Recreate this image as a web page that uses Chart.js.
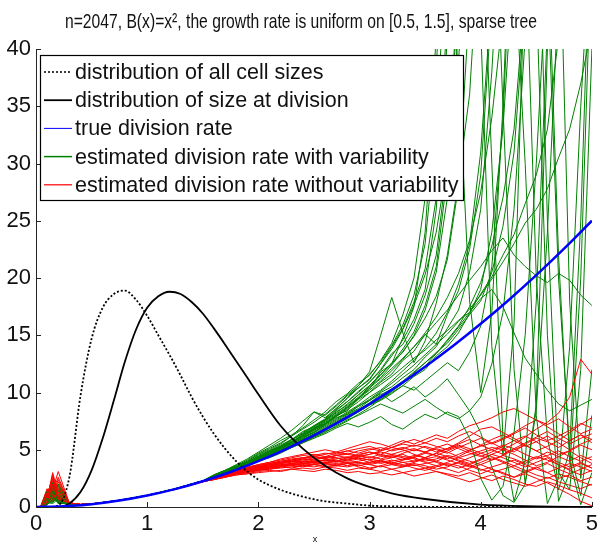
<!DOCTYPE html>
<html>
<head>
<meta charset="utf-8">
<script src="https://cdn.jsdelivr.net/npm/chart.js@4"></script>
<style>
  html, body { margin: 0; padding: 0; background: #fff; }
</style>
</head>
<body>
<canvas id="rateChart" width="602" height="544"></canvas>
<script>
// text
const titleText = "n=2047, B(x)=x\u00b2, the growth rate is uniform on [0.5, 1.5], sparse tree";
const xLabel = "x";
const legendLabels = [
  "distribution of all cell sizes",
  "distribution of size at division",
  "true division rate",
  "estimated division rate with variability",
  "estimated division rate without variability"
];
const xTicks = [0, 1, 2, 3, 4, 5];
const yTicks = [0, 5, 10, 15, 20, 25, 30, 35, 40];

// size densities
const densX = [0, 0.1, 0.2, 0.3, 0.4, 0.5, 0.6, 0.7, 0.8, 0.9, 1.0, 1.1, 1.2, 1.3, 1.4, 1.5, 1.6, 1.7, 1.8, 1.9, 2.0, 2.2, 2.4, 2.6, 2.8, 3.0, 3.2, 3.5, 4.0, 4.5, 5.0];
const allSizes = [0, 0, 0.15, 2.6, 9.7, 14.7, 17.4, 18.6, 18.9, 18.1, 16.7, 15.0, 13.3, 11.5, 9.6, 7.9, 6.4, 5.1, 4.0, 3.1, 2.4, 1.5, 0.9, 0.5, 0.3, 0.12, 0.06, 0.02, 0, 0, 0];
const atDivision = [0, 0, 0, 0.3, 1.3, 3.2, 6.0, 9.3, 12.7, 15.5, 17.4, 18.4, 18.8, 18.6, 17.9, 16.9, 15.6, 14.2, 12.75, 11.3, 9.85, 7.1, 5.1, 3.6, 2.5, 1.75, 1.2, 0.7, 0.2, 0.05, 0];

// true rate
const blueX = [0, 0.25, 0.5, 0.75, 1, 1.25, 1.5, 1.75, 2, 2.25, 2.5, 2.75, 3, 3.25, 3.5, 3.75, 4, 4.25, 4.5, 4.75, 5];
const blueY = [0, 0.06, 0.25, 0.56, 1, 1.56, 2.25, 3.06, 4, 5.06, 6.25, 7.56, 9, 10.56, 12.25, 14.06, 16, 18.06, 20.25, 22.56, 25];

// estimated rates: start, spike, shared middle part, then one tail per run
const startX = 0.04;
const spikeX = [0.1, 0.15, 0.2];
const midX = [0.3, 0.4, 0.5, 0.75, 1.0, 1.25, 1.5];
const greenMid = [0.3, 0.2, 0.27, 0.58, 1.01, 1.58, 2.28];
const redMid = [0.35, 0.22, 0.26, 0.57, 1.0, 1.55, 2.22];
const tailX = [1.6, 1.7, 1.8, 1.9, 2.0, 2.1, 2.2, 2.3, 2.4, 2.5, 2.6, 2.7, 2.8, 2.9, 3.0, 3.1, 3.2, 3.3, 3.4, 3.5,
               3.6, 3.7, 3.8, 3.9, 4.0, 4.1, 4.2, 4.3, 4.4, 4.5, 4.6, 4.7, 4.8, 4.9, 5.0];

const greenSpikes = [[0.3,1.4,0.6],[0.8,0.5,1.1],[0.2,2.1,0.4],[1.2,0.7,0.5],[0.4,0.9,1.8],[0.6,1.6,0.3],[0.3,0.5,0.9],
  [1.5,0.8,0.6],[0.5,1.2,1.4],[0.2,0.6,2.0],[0.9,1.9,0.5],[0.4,0.3,0.7],[1.0,0.6,1.2],[0.3,1.1,0.4],[0.7,2.2,0.8],
  [0.5,0.4,1.5],[1.3,0.9,0.3],[0.2,1.5,0.6],[0.6,0.8,1.0],[0.4,1.7,0.5],
  [0.5,1.0,0.7],[0.3,1.8,0.4],[1.1,0.4,0.9],[0.6,1.3,0.5],[0.2,0.7,1.6],[0.8,1.5,0.4]];
const redSpikes = [[0.5,2.0,0.7],[1.2,0.6,1.6],[0.3,2.8,0.9],[0.9,1.5,3.1],[0.4,1.1,0.6],[1.6,0.8,1.3],[0.6,2.4,0.5],
  [0.3,0.9,2.2],[1.0,1.7,0.8],[0.7,3.0,1.2],[0.4,0.6,1.9],[1.3,2.1,0.6],[0.5,1.4,2.6],[0.8,0.5,1.0],[0.3,1.9,1.4],[1.1,2.5,0.7],
  [0.6,1.8,1.0],[0.9,2.7,0.8],[0.4,1.2,2.0],[1.4,0.7,0.9],[0.5,2.2,1.7],[0.7,1.0,2.4]];

const greenTails = [
  [2.7,3.0,3.4,3.8,4.3,4.7,5.2,5.6,6.3,6.9,7.2,8.0,8.4,9.5,10.3,11.8,12.5,14.8,17.5,24,38,60],
  [2.7,3.1,3.5,4.0,4.6,5.0,5.5,6.2,7.1,8.3,7.8,8.6,9.5,10.6,11.8,15.0,18.3,15.2,12.6,14.5,17.8,22.0,28.5,36,52,70],
  [2.6,2.9,3.3,3.6,4.0,4.4,4.8,5.2,5.6,6.0,6.4,6.9,7.3,7.0,7.4,7.9,7.2,6.8,7.5,8.1,7.7,8.3,7.9,6.0,2.5,0.6,1.8,6.5,15,30,48],
  [2.6,3.0,3.3,3.7,4.2,4.6,5.0,5.5,6.0,6.6,7.1,7.7,8.3,8.9,9.6,10.2,11.0,11.9,12.8,13.9,15.2,17.0,19.5,23,31,45],
  [2.7,3.1,3.5,3.9,4.4,4.9,5.4,5.9,6.6,7.0,7.6,8.5,9.2,10.1,10.9,12.0,13.4,14.2,16.0,18.5,22.0,30,46],
  [2.6,2.9,3.2,3.6,4.0,4.4,4.8,5.3,5.8,6.3,6.7,7.3,7.8,8.4,9.0,9.4,10.1,10.8,11.5,12.3,13.4,14.6,15.8,17.5,19.6,22.8,27,33,45,60,25,3,1.5,12,40],
  [2.7,3.0,3.4,3.8,4.2,4.7,5.1,5.6,6.1,6.5,7.2,7.8,8.1,8.8,9.3,9.9,9.2,9.8,10.5,9.6,10.3,11.2,9.8,8.4,6.5,3.5,1.0,0.4,2.0,8.5,24,45],
  [2.7,3.1,3.5,3.9,4.5,4.9,5.3,5.9,6.4,7.0,7.6,8.2,9.0,9.8,10.6,11.5,12.6,13.5,15.0,17.2,20.5,27,42,60,55,30,6,0.5,4,18,42],
  [2.8,3.2,3.6,4.1,4.7,5.2,5.8,6.3,6.9,7.6,8.3,9.2,9.9,10.8,11.5,12.8,14.3,16.8,20.0,27,41],
  [2.6,3.0,3.3,3.7,4.1,4.5,5.0,5.4,5.9,6.4,6.9,7.5,8.1,8.6,9.3,10.0,10.5,11.3,12.0,13.1,14.0,15.6,17.2,20.5,26,38,55],
  [2.6,2.9,3.3,3.7,4.1,4.5,4.9,5.4,5.9,6.3,6.8,7.4,8.0,8.5,9.1,9.8,10.3,11.0,11.8,12.6,13.5,14.3,15.5,16.8,18.0,20.5,24.5,31,44,62,50,22,4,0.2,3],
  [2.7,3.0,3.4,3.8,4.3,4.6,5.1,5.6,6.2,6.8,7.3,7.9,8.6,9.4,10.0,10.7,11.4,12.2,13.0,13.7,14.6,15.4,16.3,17.0,18.2,19.0,17.5,15.2,13.0,11.6,10.2,9.0,8.4,8.9,9.4],
  [2.7,3.1,3.4,3.9,4.4,4.8,5.2,5.7,6.2,6.7,7.3,8.0,8.7,9.5,10.4,11.2,12.1,13.0,14.0,15.0,16.1,17.2,18.5,19.8,21.0,22.4,23.5,22.0,21.0,20.2,19.6,20.4,19.8,18.5,17.6],
  [2.8,3.2,3.7,4.2,4.8,5.4,6.0,6.7,7.5,8.3,8.0,8.8,9.7,10.4,11.2,12.5,13.8,15.5,17.6,20.3,24,30,39,52],
  [2.6,2.9,3.3,3.6,4.0,4.3,4.7,5.2,5.6,6.1,6.6,7.0,7.5,8.1,8.7,9.4,10.0,10.6,11.4,12.0,13.2,14.0,15.2,16.9,19.0,24,33,48,30,8,0.3,2.5,14,35,52],
  [2.6,2.9,3.2,3.6,4.0,4.4,4.8,5.2,5.7,6.1,6.5,7.1,7.6,8.0,8.5,9.0,8.6,8.2,8.8,9.4,8.7,8.1,7.7,8.4,9.6,12.5,17,26,41],
  [2.7,3.1,3.5,3.9,4.4,4.8,5.3,5.8,6.5,7.1,7.7,8.6,9.5,10.4,11.1,12.5,14.0,15.6,17.9,20.8,27,43],
  [2.7,3.0,3.4,3.9,4.3,4.8,5.2,5.7,6.3,6.8,7.5,8.1,8.8,9.6,10.5,11.3,12.4,13.6,14.9,16.5,18.4,21.6,28,44],
  [2.6,3.0,3.3,3.7,4.1,4.5,4.9,5.4,5.8,6.2,6.7,7.2,7.8,8.3,8.9,9.5,10.2,10.9,11.7,12.6,13.4,14.5,15.7,17.0,18.6,20.1,22.0,23.8,26.5,29,33,41],
  [2.7,3.0,3.4,3.8,4.2,4.6,5.1,5.5,6.0,6.5,7.0,7.6,8.2,8.8,9.4,10.1,10.8,11.6,12.4,13.3,14.2,15.1,16.2,17.3,18.5,19.9,21.4,23.0,24.8,26.0,27.8,30.5,33,37,42],
  [2.7,3.1,3.5,3.9,4.4,4.9,5.3,5.9,6.4,7.1,7.6,8.4,9.2,10.0,10.9,11.9,13.2,14.6,16.4,19.0,26,41,70,80,80,60,35,12,2.0,9,40,70],
  [2.6,3.0,3.3,3.8,4.2,4.6,5.1,5.6,6.1,6.7,7.2,7.9,8.5,9.2,10.0,10.9,11.6,12.8,13.6,15.1,14.2,16.8,18.9,22.5,29,44,75,80,80,70,46,20,5,1.0,8],
  [2.7,3.1,3.4,3.9,4.4,4.8,5.3,5.7,6.3,6.9,7.5,8.3,8.9,9.8,10.6,11.6,12.5,13.8,15.3,17.6,21.0,29,45,70,42,14,4.5,16,48,80,80,55,18,2.5,12],
  [2.6,2.9,3.2,3.6,4.0,4.4,4.9,5.3,5.8,6.2,6.7,7.3,7.7,8.3,8.9,9.3,9.9,10.6,10.2,11.0,11.8,12.6,11.9,13.5,15.8,21,34,55,70,45,15,0.5,3,20,50],
  [2.8,3.2,3.6,4.0,4.6,5.1,5.6,6.2,6.8,7.4,8.1,8.9,9.8,10.6,11.6,12.7,14.1,15.9,18.5,23,33,50,38,18,10,17,35,60],
  [2.7,3.0,3.4,3.8,4.3,4.7,5.2,5.7,6.3,6.8,7.4,8.0,8.7,9.5,10.2,11.0,11.9,12.9,14.0,15.2,16.6,18.3,20.4,23.3,27.5,34,43,62,50,20,6,1.5,5,25,55]
];

const redTails = [
  [2.5,2.8,3.0,3.2,3.4,3.5,3.6,3.8,3.9,4.0,4.1,4.0,4.2,4.3,4.1,4.4,4.6,4.4,4.3,4.7,4.5,4.2,4.6,5.0,5.3,5.6,5.1,4.8,5.5,6.0,5.7,5.2,5.8,6.3,5.9],
  [2.4,2.6,2.8,2.9,3.1,3.2,3.1,3.3,3.4,3.3,3.5,3.4,3.2,3.4,3.3,3.1,3.3,3.0,3.2,3.4,3.1,2.9,2.7,3.0,2.6,2.3,2.7,2.4,2.0,1.8,2.2,1.9,1.5,1.2,0.8],
  [2.5,2.7,3.0,3.1,3.3,3.5,3.6,3.7,3.6,3.8,3.9,4.1,3.9,4.0,4.2,4.0,3.8,4.1,4.3,4.0,4.2,4.5,4.3,4.6,4.9,5.2,5.0,5.5,6.1,6.8,7.4,8.2,9.6,12.9,11.6],
  [2.6,2.9,3.2,3.4,3.7,3.9,4.1,4.3,4.5,4.6,4.4,4.7,4.9,5.1,5.3,5.0,5.4,5.8,5.5,5.9,6.3,6.0,6.6,7.1,7.4,7.8,8.3,8.6,8.1,7.6,7.2,7.7,7.0,6.4,6.8],
  [2.5,2.8,3.0,3.3,3.4,3.6,3.7,3.6,3.8,4.0,3.8,3.7,3.9,3.6,3.8,4.0,3.7,3.5,3.8,3.6,3.3,3.5,3.9,3.6,3.2,3.5,3.8,4.1,3.7,3.3,3.0,3.4,3.8,3.5,3.1],
  [2.6,2.8,3.1,3.3,3.5,3.7,3.9,4.0,4.2,4.1,4.3,4.5,4.3,4.6,4.8,4.5,4.3,4.7,5.0,4.8,5.2,5.5,5.1,4.7,4.4,4.8,5.3,5.8,6.2,5.7,5.1,4.6,4.9,5.4,5.0],
  [2.4,2.7,2.9,3.1,3.2,3.4,3.5,3.4,3.6,3.7,3.5,3.6,3.8,3.5,3.3,3.6,3.9,3.7,3.4,3.2,3.5,3.8,3.6,3.2,2.9,3.3,3.0,2.6,2.9,2.5,2.1,1.6,1.1,0.5,0.1],
  [2.5,2.7,3.0,3.2,3.4,3.6,3.8,3.9,4.0,4.2,4.4,4.3,4.1,4.4,4.6,4.9,5.2,5.0,4.6,4.3,4.7,5.1,5.6,6.2,6.8,7.0,6.5,6.0,5.4,4.9,5.3,5.8,6.5,7.2,7.8],
  [2.5,2.8,3.1,3.3,3.5,3.6,3.8,4.0,3.9,4.1,4.0,4.2,4.4,4.2,3.9,4.1,4.3,4.6,4.2,3.9,3.6,3.9,4.3,4.0,3.7,4.1,4.5,4.2,3.8,4.3,4.8,4.4,4.0,4.5,4.1],
  [2.4,2.6,2.9,3.0,3.2,3.3,3.4,3.5,3.6,3.5,3.7,3.6,3.5,3.7,3.4,3.6,3.3,3.5,3.7,3.4,3.6,3.3,3.0,3.4,3.7,3.3,2.9,2.6,3.1,3.5,3.0,2.5,2.8,2.3,2.6],
  [2.6,2.9,3.1,3.4,3.6,3.8,3.9,4.1,4.3,4.4,4.2,4.5,4.7,4.5,4.8,4.6,5.0,5.2,4.9,5.3,5.0,4.7,5.2,5.6,6.0,5.5,5.9,6.4,6.9,6.3,5.8,6.2,6.7,7.3,6.9],
  [2.5,2.7,3.0,3.2,3.3,3.5,3.7,3.8,3.7,3.9,4.1,3.9,4.1,4.3,4.1,3.8,4.0,4.2,4.5,4.3,4.0,4.4,4.1,3.8,4.2,4.6,4.3,3.9,3.5,3.9,4.3,3.7,3.3,3.8,3.4],
  [2.6,2.9,3.2,3.5,3.7,3.9,4.2,4.4,4.6,4.8,5.0,4.8,5.1,5.4,5.7,5.5,5.2,5.6,5.9,5.6,5.3,5.0,5.4,5.1,4.7,5.0,5.4,5.1,4.6,4.2,4.5,4.9,4.4,4.0,4.4],
  [2.4,2.6,2.8,2.9,3.0,3.1,3.2,3.3,3.2,3.1,3.3,3.2,3.0,3.1,2.9,3.0,2.8,3.0,2.7,2.9,3.1,2.8,2.5,2.2,2.5,2.8,2.4,2.1,1.8,2.2,2.6,2.2,1.9,1.6,2.0],
  [2.5,2.8,3.0,3.3,3.5,3.7,3.8,4.0,4.1,4.3,4.2,4.0,4.3,4.5,4.3,4.6,4.4,4.1,4.4,4.8,5.1,4.8,4.4,4.9,5.4,5.9,6.3,5.8,5.3,5.7,6.2,5.6,5.0,5.5,5.9],
  [2.5,2.7,2.9,3.1,3.3,3.4,3.6,3.7,3.8,3.9,3.8,4.0,3.8,3.9,3.7,3.9,4.1,3.9,4.0,4.2,3.9,3.6,3.9,4.3,4.7,4.4,4.0,3.6,4.0,4.4,4.1,3.7,3.2,2.8,3.2],
  [2.5,2.7,3.0,3.2,3.4,3.5,3.7,3.8,4.0,3.9,4.1,4.3,4.0,4.2,4.4,4.2,4.5,4.3,4.0,4.3,4.7,4.4,4.0,3.7,4.1,4.6,5.0,4.6,4.1,3.6,3.9,4.4,4.9,4.3,3.8],
  [2.6,2.8,3.1,3.4,3.6,3.8,4.0,4.2,4.3,4.5,4.7,4.6,4.9,4.7,5.0,5.2,4.9,5.1,5.4,5.2,4.8,5.1,5.5,5.9,5.4,5.0,4.6,5.1,5.6,6.1,6.6,6.0,5.5,6.0,6.4],
  [2.4,2.7,2.9,3.0,3.2,3.3,3.5,3.6,3.5,3.7,3.8,3.6,3.8,3.9,3.7,3.5,3.7,3.9,3.6,3.8,4.0,3.7,3.4,3.7,3.3,3.0,3.3,3.6,3.2,2.8,2.5,2.9,2.6,2.2,1.9],
  [2.5,2.8,3.0,3.3,3.5,3.7,3.9,4.0,4.2,4.4,4.3,4.5,4.6,4.4,4.6,4.8,4.6,4.9,5.1,4.8,4.5,4.9,5.3,4.9,4.5,4.1,4.5,5.0,5.4,4.9,4.4,3.9,3.5,3.9,3.4],
  [2.5,2.7,2.9,3.1,3.3,3.4,3.5,3.7,3.8,3.7,3.9,3.8,3.6,3.8,3.9,4.1,3.8,3.6,3.9,4.2,4.4,4.1,3.8,3.5,3.9,4.3,3.9,3.4,3.0,3.4,3.8,3.3,2.9,3.3,3.7],
  [2.6,2.9,3.2,3.4,3.6,3.8,4.0,4.1,4.3,4.4,4.6,4.8,4.6,4.9,5.1,4.9,5.2,5.5,5.3,5.6,6.0,5.7,6.2,6.6,6.1,5.6,6.0,6.5,7.1,7.6,7.0,6.4,5.8,6.3,5.6]
];

const GREEN = "#008000";
const RED = "#ff0000";
const BLUE = "#0000ff";
const INK = "#111111";
const sansFont = '"Liberation Sans", Arial, sans-serif';

function zip(xs, ys) {
  return ys.map((y, i) => ({ x: xs[i], y: y }));
}

function runPoints(spike, mid, tail) {
  return [{ x: startX, y: 0 }]
    .concat(zip(spikeX, spike))
    .concat(zip(midX, mid))
    .concat(zip(tailX, tail));
}

function thinLine(data, color) {
  return { data: data, borderColor: color, borderWidth: 1, pointRadius: 0, tension: 0, fill: false };
}

// first dataset is painted last, so blue and black go first
const datasets = [
  { data: zip(blueX, blueY), borderColor: BLUE, borderWidth: 2.5, pointRadius: 0, cubicInterpolationMode: "monotone" },
  { data: zip(densX, atDivision), borderColor: "#000", borderWidth: 1.8, pointRadius: 0, cubicInterpolationMode: "monotone" },
  { data: zip(densX, allSizes), borderColor: "#000", borderWidth: 1.8, borderDash: [2, 2], pointRadius: 0, cubicInterpolationMode: "monotone" }
];
const runCount = Math.max(greenTails.length, redTails.length);
for (let i = 0; i < runCount; i++) {
  if (i < redTails.length) datasets.push(thinLine(runPoints(redSpikes[i], redMid, redTails[i]), RED));
  if (i < greenTails.length) datasets.push(thinLine(runPoints(greenSpikes[i], greenMid, greenTails[i]), GREEN));
}

// title, inward ticks, axis label and the boxed legend
const overlay = {
  id: "overlay",
  afterDraw(chart) {
    const { ctx, chartArea, scales } = chart;
    ctx.save();

    ctx.strokeStyle = "#222";
    ctx.lineWidth = 1;
    xTicks.forEach((v) => {
      const px = Math.round(scales.x.getPixelForValue(v)) + 0.5;
      ctx.beginPath();
      ctx.moveTo(px, chartArea.bottom);
      ctx.lineTo(px, chartArea.bottom - 5);
      ctx.stroke();
    });
    yTicks.forEach((v) => {
      const py = Math.round(scales.y.getPixelForValue(v)) + 0.5;
      ctx.beginPath();
      ctx.moveTo(chartArea.left, py);
      ctx.lineTo(chartArea.left + 5, py);
      ctx.stroke();
    });

    // narrow title: squeeze a regular face to the reference width
    ctx.fillStyle = INK;
    ctx.textAlign = "center";
    ctx.textBaseline = "middle";
    ctx.font = "21px " + sansFont;
    const squeeze = 472 / ctx.measureText(titleText).width;
    ctx.save();
    ctx.translate(301, 22);
    ctx.scale(squeeze, 1);
    ctx.fillText(titleText, 0, 0);
    ctx.restore();

    ctx.font = "9px " + sansFont;
    ctx.fillText(xLabel, 315, 540);

    // legend box
    const box = { left: 40.5, top: 55.5, right: 463.5, bottom: 200.5 };
    ctx.fillStyle = "#fff";
    ctx.fillRect(box.left, box.top, box.right - box.left, box.bottom - box.top);
    ctx.strokeStyle = "#000";
    ctx.lineWidth = 1.2;
    ctx.strokeRect(box.left, box.top, box.right - box.left, box.bottom - box.top);

    const sampleStyles = [
      { color: "#000", width: 1.5, dash: [2, 2] },
      { color: "#000", width: 1.8, dash: [] },
      { color: BLUE, width: 1, dash: [] },
      { color: GREEN, width: 1.5, dash: [] },
      { color: RED, width: 1.2, dash: [] }
    ];
    ctx.font = "21.5px " + sansFont;
    ctx.textAlign = "left";
    legendLabels.forEach((label, i) => {
      const y = 72 + i * 28.2;
      const s = sampleStyles[i];
      ctx.strokeStyle = s.color;
      ctx.lineWidth = s.width;
      ctx.setLineDash(s.dash);
      ctx.beginPath();
      ctx.moveTo(44, y);
      ctx.lineTo(72, y);
      ctx.stroke();
      ctx.setLineDash([]);
      ctx.fillStyle = INK;
      ctx.fillText(label, 75, y + 1);
    });

    ctx.restore();
  }
};

new Chart(document.getElementById("rateChart"), {
  type: "line",
  data: { datasets: datasets },
  options: {
    responsive: false,
    animation: false,
    events: [],
    layout: { padding: { top: 49, right: 6, left: 0, bottom: 0 } },
    plugins: { legend: { display: false }, tooltip: { enabled: false }, title: { display: false } },
    scales: {
      x: {
        type: "linear",
        min: 0,
        max: 5,
        afterBuildTicks: (s) => { s.ticks = xTicks.map((v) => ({ value: v })); },
        afterFit: (s) => { s.height = 37; },
        grid: { display: false, drawTicks: false },
        border: { display: true, color: "#262626", width: 1 },
        ticks: { color: INK, font: { family: sansFont, size: 22 }, padding: 4, maxRotation: 0, autoSkip: false }
      },
      y: {
        type: "linear",
        min: 0,
        max: 40,
        afterBuildTicks: (s) => { s.ticks = yTicks.map((v) => ({ value: v })); },
        afterFit: (s) => { s.width = 36; },
        grid: { display: false, drawTicks: false },
        border: { display: true, color: "#262626", width: 1 },
        ticks: { color: INK, font: { family: sansFont, size: 22 }, padding: 5, autoSkip: false }
      }
    }
  },
  plugins: [overlay]
});
</script>
</body>
</html>
